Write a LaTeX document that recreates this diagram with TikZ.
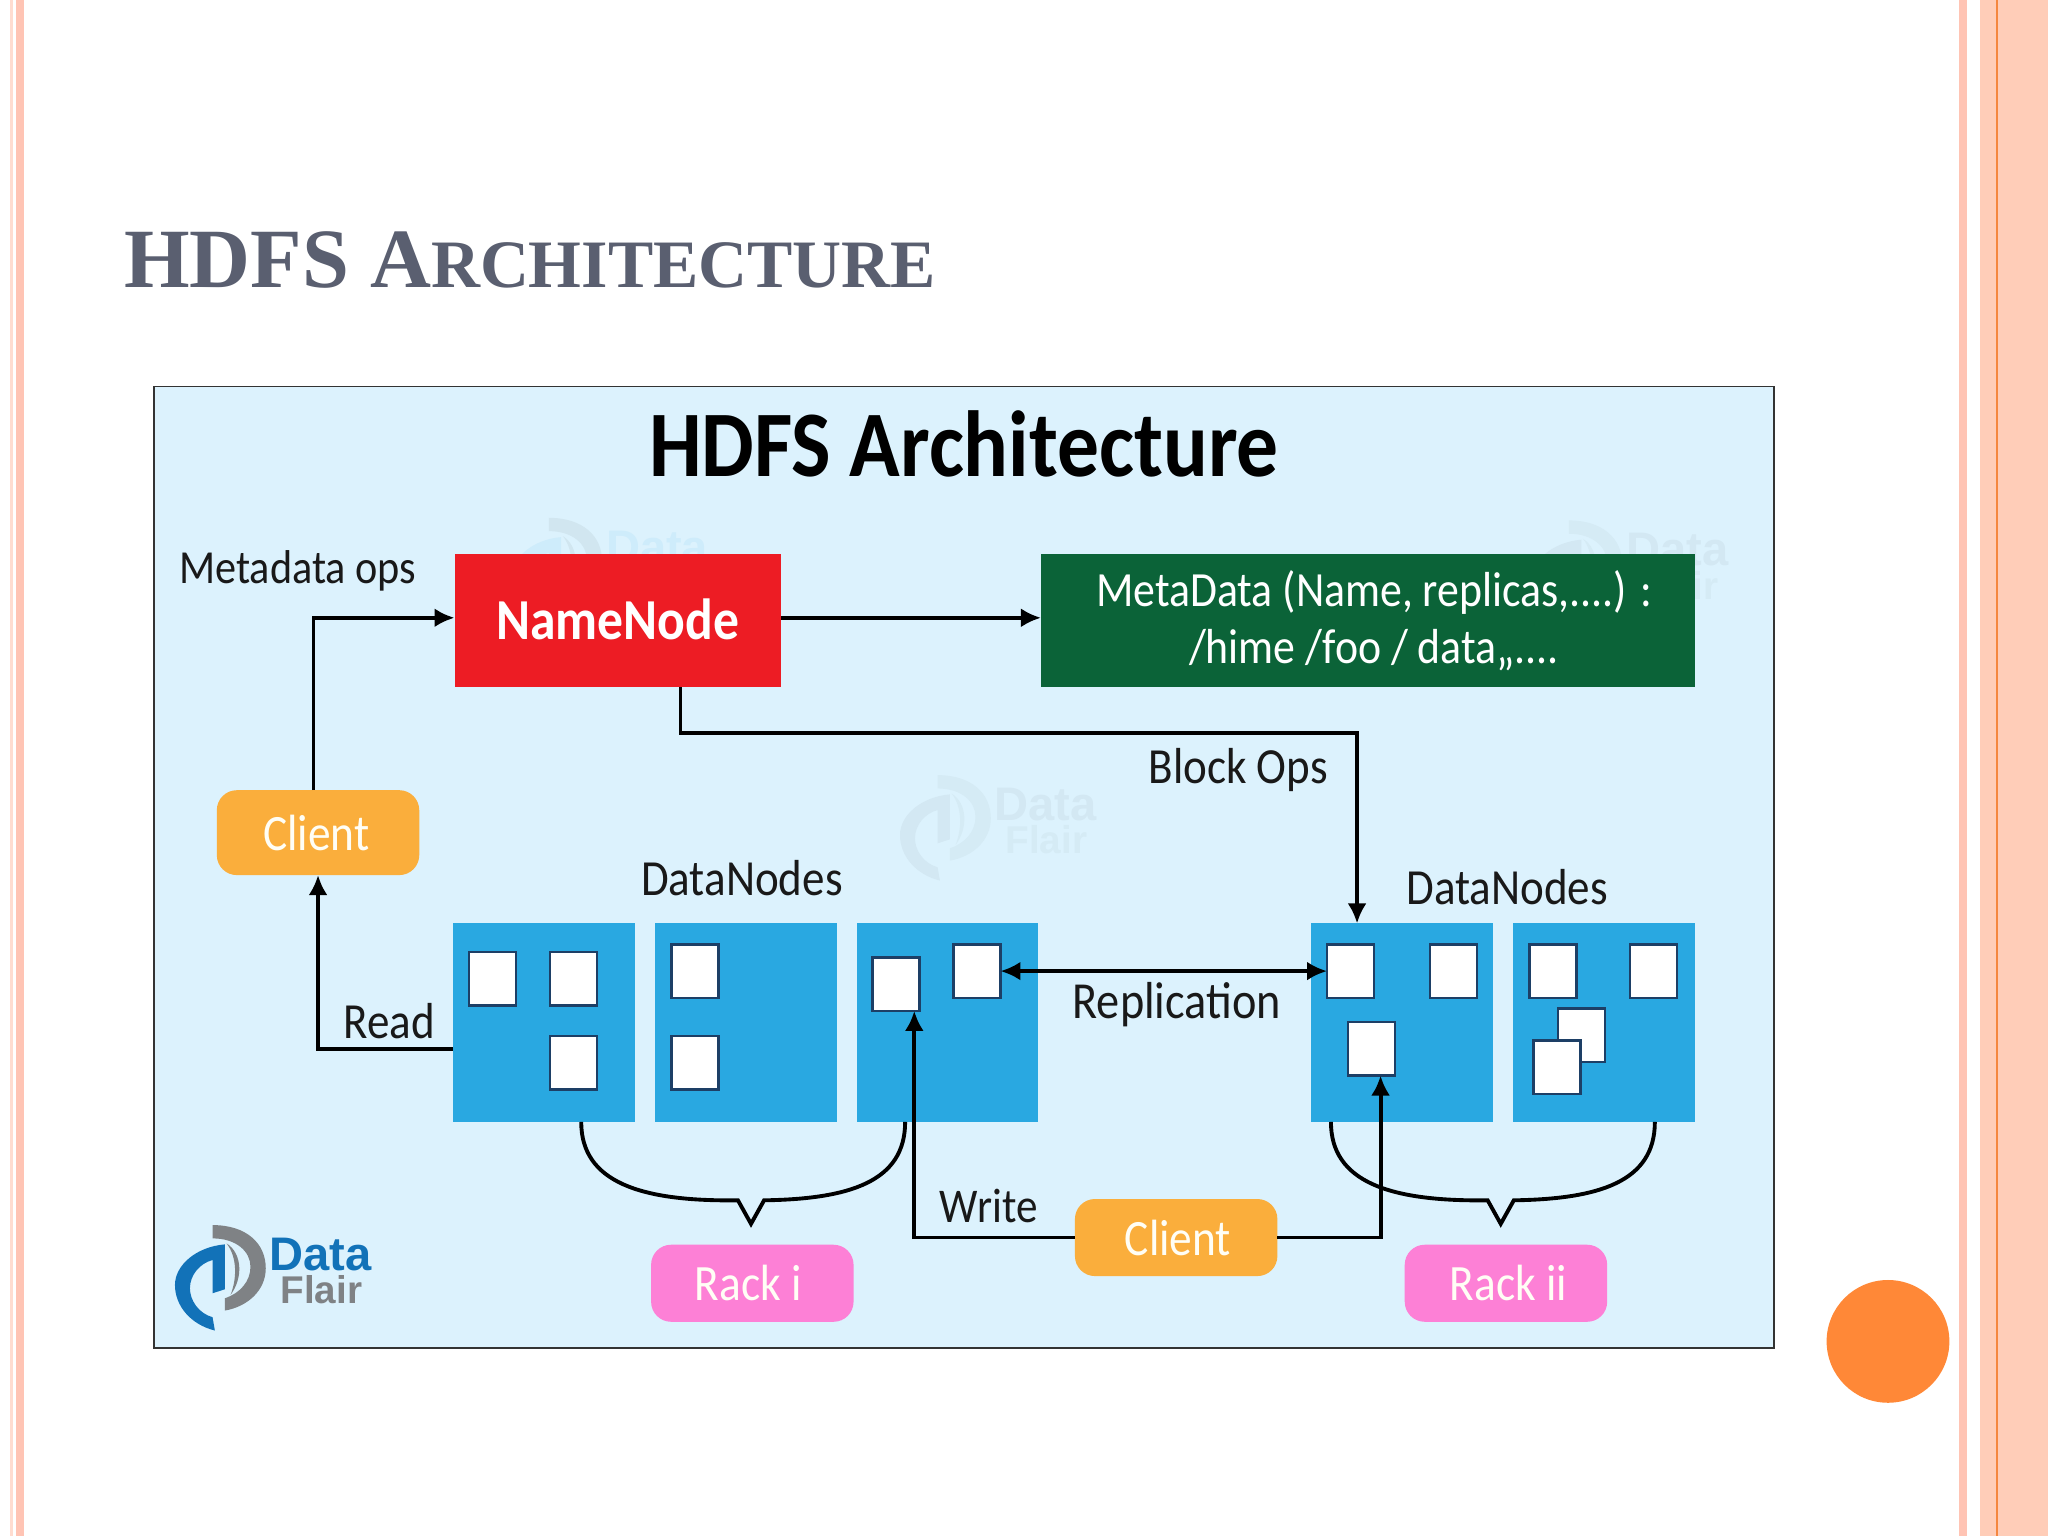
\documentclass[tikz,border=0pt]{standalone}
\usepackage{fontspec}
\setmainfont[FakeStretch=0.89]{Carlito}
\newfontfamily\slidefont{Liberation Serif}
\newfontfamily\logofont{Liberation Sans}
\usetikzlibrary{arrows.meta}
\usetikzlibrary{calc}
\definecolor{bandpink}{HTML}{FFC4B4}
\definecolor{bandpale}{HTML}{FFDCD0}
\definecolor{bandsalmon}{HTML}{FFCDB8}
\definecolor{bandline}{HTML}{F5873F}
\definecolor{dotorange}{HTML}{FF8837}
\definecolor{slidegrey}{HTML}{5A5F70}
\definecolor{skyfill}{HTML}{DCF2FD}
\definecolor{namered}{HTML}{ED1C24}
\definecolor{metagreen}{HTML}{0B6338}
\definecolor{clientorange}{HTML}{FAAE3C}
\definecolor{rackpink}{HTML}{FD80D6}
\definecolor{blockblue}{HTML}{29A8E1}
\definecolor{blockedge}{HTML}{1D3F66}
\definecolor{logoblue}{HTML}{1272B8}
\definecolor{logogrey}{HTML}{7F8285}
\newcommand{\ud}{0.0130612cm}
\tikzset{edge/.style = {line width=1.1pt,-{Latex[width=1.9mm,length=2mm]}}}
\tikzset{
    flat/.style = {inner sep=0pt,outer sep=0pt,align=center},
    headbox/.style = {flat,fill=#1,text=white,minimum height=102*\ud},
    namebox/.style = {flat,rounded corners=2mm,fill=#1,text=white!96!yellow,minimum width=155*\ud,font=\fontsize{14.5}{16}\selectfont},
    dnbox/.style = {flat,fill=blockblue,minimum width=139*\ud,minimum height=152*\ud},
    block/.style = {flat,fill=white,draw=blockedge,line width=0.7pt,minimum width=36*\ud,minimum height=41*\ud},
    tag/.style = {flat,font=\fontsize{14.4}{16}\selectfont,text=black!90},
    curl/.style = {line width=1.1pt,line join=miter},
}
% one rack bracket, from the bottom of a DataNode box
\newcommand{\rackcurl}[2]{
    \draw[curl] ([xshift=#2*\ud]#1.south) .. controls ++(0,46) and ++(-75,1) .. ++(120,60)
        -- ++(10,18) -- ++(10,-18) .. controls ++(65,-1) and ++(0,46) .. ++(108,-60);
}
% the logo, in its own small units
\newcommand{\flairlogo}[5]{
    \begin{scope}[shift={(#1,#2)},x=0.00333cm,y=-0.00333cm]
        \fill[#4] (158,45) .. controls (260,45) and (318,100) .. (318,175) .. controls (318,240) and (265,290) .. (195,302)
            -- (195,265) .. controls (240,250) and (272,215) .. (272,170) .. controls (272,125) and (230,85) .. (158,85) -- cycle;
        \fill[#4] (200,100) .. controls (248,130) and (250,205) .. (212,255) .. controls (232,205) and (232,140) .. (200,100) -- cycle;
        \fill[#3] (195,103) .. controls (110,110) and (45,165) .. (45,225) .. controls (45,290) and (95,345) .. (165,362)
            -- (158,322) .. controls (115,310) and (90,270) .. (90,235) .. controls (90,195) and (120,160) .. (158,150)
            -- (158,250) -- (195,238) -- cycle;
        \node[flat,anchor=west,text=#3,font=\logofont\bfseries\fontsize{13.4}{13}\selectfont] (#5d) at (330,133) {Data};
        \node[flat,anchor=west,text=#4,font=\logofont\bfseries\fontsize{11}{11}\selectfont] (#5f) at (362,240) {Flair};
    \end{scope}
}

\begin{document}
\begin{tikzpicture}[x=\ud,y=-\ud]
    \useasboundingbox (0,0) rectangle (1568,1176);
    \fill[white] (0,0) rectangle (1568,1176);

    % Slide bands
    \fill[bandpale] (7.7,0) rectangle (10,1176);
    \fill[bandpink] (12.3,0) rectangle (18.4,1176);
    \fill[bandpink] (1500,0) rectangle (1506.2,1176);
    \fill[bandsalmon] (1516,0) rectangle (1568,1176);
    \fill[bandline] (1528.2,0) rectangle (1529.6,1176);
    \node[flat,circle,fill=dotorange,minimum size=94*\ud] (dot) at (1445.5,1027) {};

    % Slide title
    \node[flat,anchor=base west,text=slidegrey,font=\slidefont\bfseries\fontsize{24}{24}\selectfont] (slidetitle) at (95,220) {HDFS A{\fontsize{19.3}{24}\selectfont RCHITECTURE}};

    % Panel
    \node[flat,draw=black!80,line width=0.5pt,fill=skyfill,minimum width=1240*\ud,minimum height=736*\ud] (panel) at (738,664) {};
    \flairlogo{380}{385}{blockblue!8!skyfill}{black!5!skyfill}{marka}
    \flairlogo{677.6}{582}{black!4!skyfill}{black!3!skyfill}{markb}
    \flairlogo{1161}{387}{black!4!skyfill}{black!3!skyfill}{markc}
    \flairlogo{122.5}{926.5}{logoblue}{logogrey}{logo}

    \node[flat,font=\bfseries\fontsize{26.7}{30}\selectfont] (paneltitle) at (738,340) {HDFS Architecture};

    % Boxes
    \node[headbox=namered,minimum width=250*\ud,font=\bfseries\fontsize{16.5}{19}\selectfont] (namenode) at (473,475) {\raisebox{0.5pt}{NameNode}};
    \node[headbox=metagreen,minimum width=501*\ud,font=\fontsize{14}{16.3}\selectfont] (metadata) at (1047.5,475) {\kern3.4pt MetaData (Name, replicas,....) :\\\kern3.4pt /hime /foo / data,,....};
    \node[namebox=clientorange,minimum height=65*\ud] (clienttop) at (243.5,637.5) {Client\kern1pt};
    \node[namebox=clientorange,minimum height=59*\ud] (clientbot) at (900.5,947.5) {\kern1pt Client};
    \node[namebox=rackpink,minimum height=59*\ud] (rackone) at (576,982.5) {Rack i\kern2.4pt};
    \node[namebox=rackpink,minimum height=59*\ud] (racktwo) at (1153,982.5) {\kern1.5pt Rack ii};

    % DataNodes
    \node[dnbox] (dna) at (416.5,783) {};
    \node[dnbox] (dnb) at (571,783) {};
    \node[dnbox] (dnc) at (725.5,783) {};
    \node[dnbox] (dnd) at (1073.5,783) {};
    \node[dnbox] (dne) at (1228,783) {};

    % Blocks
    \node[block] (ba) at (377,749.5) {};
    \node[block] (bb) at (439,749.5) {};
    \node[block] (bc) at (439,813.5) {};
    \node[block] (bd) at (532,743.5) {};
    \node[block] (be) at (532,813.5) {};
    \node[block] (bf) at (686,753.5) {};
    \node[block] (bg) at (748,743.5) {};
    \node[block] (bh) at (1034,743.5) {};
    \node[block] (bi) at (1113,743.5) {};
    \node[block] (bj) at (1050,803) {};
    \node[block] (bk) at (1189,743.5) {};
    \node[block] (bl) at (1266,743.5) {};
    \node[block] (bm) at (1211,792.5) {};
    \node[block] (bn) at (1192,817) {};

    % Labels
    \node[tag,font=\fontsize{13.5}{16}\selectfont] (opslabel) at (228,437) {Metadata ops};
    \node[tag] (dnlabela) at (568,672.5) {DataNodes};
    \node[tag] (dnlabelb) at (1154,679.5) {DataNodes};
    \node[tag] (blocklabel) at (948,589.5) {Block Ops};
    \node[tag] (readlabel) at (298,782) {Read};
    \node[tag,font=\fontsize{14.8}{16}\selectfont] (repllabel) at (901,769) {Replication};
    \node[tag,font=\fontsize{13.8}{16}\selectfont] (writelabel) at (757,923) {Write};

    % Connectors
    \draw[edge] ([xshift=-3.5*\ud]clienttop.north) |- ([yshift=2*\ud]namenode.west);
    \draw[edge] ([yshift=2*\ud]namenode.east) -- ([yshift=2*\ud]metadata.west);
    \draw[edge] ([xshift=48*\ud]namenode.south) -- ++(0,35) -| ([xshift=-34.5*\ud]dnd.north);
    \draw[edge] ([yshift=-20*\ud]dna.west) -| (clienttop.south);
    \draw[edge,{Latex[width=1.9mm,length=2mm]}-{Latex[width=1.9mm,length=2mm]}] (bg.east) -- (bh.west);
    \draw[edge] (clientbot.west) -| ([xshift=14*\ud]bf.south);
    \draw[edge] (clientbot.east) -| ([xshift=7*\ud]bj.south);

    % Rack brackets
    \rackcurl{dna}{28.5}
    \rackcurl{dnd}{-54.5}
\end{tikzpicture}
\end{document}
